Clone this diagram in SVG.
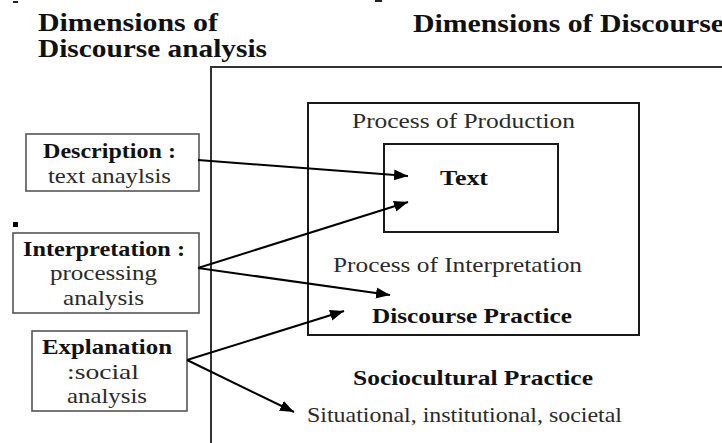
<svg xmlns="http://www.w3.org/2000/svg" width="722" height="443" viewBox="0 0 722 443" font-family="'Liberation Serif', 'Times New Roman', Times, serif">
<defs>
<style>
text{font-family:'Liberation Serif','Times New Roman',Times,serif;fill:#1a1a1a;}
.b{font-weight:bold;fill:#111;}
.t{font-size:25px;}
.m{font-size:21px;}
.r{fill:#2a2a2a;}
.lbl{fill:#fff;stroke:#555;stroke-width:1.6;}
.frame{fill:none;stroke:#333;stroke-width:2;}
.inner{fill:#fff;stroke:#1a1a1a;stroke-width:2;}
.con{fill:none;stroke:#000;stroke-width:2;marker-end:url(#ah);}
</style>
<marker id="ah" markerUnits="userSpaceOnUse" markerWidth="15" markerHeight="12" refX="14" refY="6" orient="auto">
<path d="M0,0.5 L14,6 L0,11.5 z" fill="#000"/>
</marker>
</defs>
<rect width="722" height="443" fill="#fff"/>
<rect x="13" y="1" width="5" height="2" fill="#222"/>
<rect x="375" y="0" width="7" height="2" fill="#222"/>
<rect x="13" y="222" width="5" height="5" fill="#000"/>

<g id="title-left">
<text class="b t" x="38" y="31" textLength="180" lengthAdjust="spacingAndGlyphs">Dimensions of</text>
<text class="b t" x="38" y="57" textLength="229" lengthAdjust="spacingAndGlyphs">Discourse analysis</text>
</g>
<g id="title-right">
<text class="b t" x="413" y="32" textLength="311" lengthAdjust="spacingAndGlyphs">Dimensions of Discourse</text>
</g>

<g id="sociocultural-practice">
<path class="frame" d="M211,443 V67 H722"/>
<text class="b m" x="353" y="385" textLength="240" lengthAdjust="spacingAndGlyphs">Sociocultural Practice</text>
<text class="m r" x="307" y="422" textLength="315" lengthAdjust="spacingAndGlyphs">Situational, institutional, societal</text>
</g>

<g id="discourse-practice">
<rect class="inner" x="308" y="103" width="331" height="232"/>
<text class="m r" x="352" y="128" textLength="223" lengthAdjust="spacingAndGlyphs">Process of Production</text>
<text class="m r" x="333" y="272" textLength="249" lengthAdjust="spacingAndGlyphs">Process of Interpretation</text>
<text class="b m" x="372" y="323" textLength="200" lengthAdjust="spacingAndGlyphs">Discourse Practice</text>
</g>

<g id="text-node">
<rect class="inner" x="384" y="144" width="174" height="88"/>
<text class="b m" x="440" y="185" textLength="48" lengthAdjust="spacingAndGlyphs">Text</text>
</g>

<g id="description">
<rect class="lbl" x="26" y="134" width="173" height="57"/>
<text class="b m" x="43" y="158" textLength="133" lengthAdjust="spacingAndGlyphs">Description :</text>
<text class="m r" x="48" y="183" textLength="123" lengthAdjust="spacingAndGlyphs">text anaylsis</text>
</g>

<g id="interpretation">
<rect class="lbl" x="13" y="233" width="186" height="80"/>
<text class="b m" x="23" y="256" textLength="162" lengthAdjust="spacingAndGlyphs">Interpretation :</text>
<text class="m r" x="50" y="280" textLength="107" lengthAdjust="spacingAndGlyphs">processing</text>
<text class="m r" x="63" y="305" textLength="81" lengthAdjust="spacingAndGlyphs">analysis</text>
</g>

<g id="explanation">
<rect class="lbl" x="32" y="331" width="155" height="80"/>
<text class="b m" x="42" y="354" textLength="130" lengthAdjust="spacingAndGlyphs">Explanation</text>
<text class="m r" x="67" y="379" textLength="72" lengthAdjust="spacingAndGlyphs">:social</text>
<text class="m r" x="67" y="403" textLength="80" lengthAdjust="spacingAndGlyphs">analysis</text>
</g>

<g id="connectors">
<line class="con" x1="198" y1="160" x2="408" y2="176"/>
<line class="con" x1="198" y1="268" x2="408" y2="202"/>
<line class="con" x1="198" y1="268" x2="390" y2="295"/>
<line class="con" x1="187" y1="360" x2="344" y2="311"/>
<line class="con" x1="187" y1="360" x2="294" y2="412"/>
</g>
</svg>
